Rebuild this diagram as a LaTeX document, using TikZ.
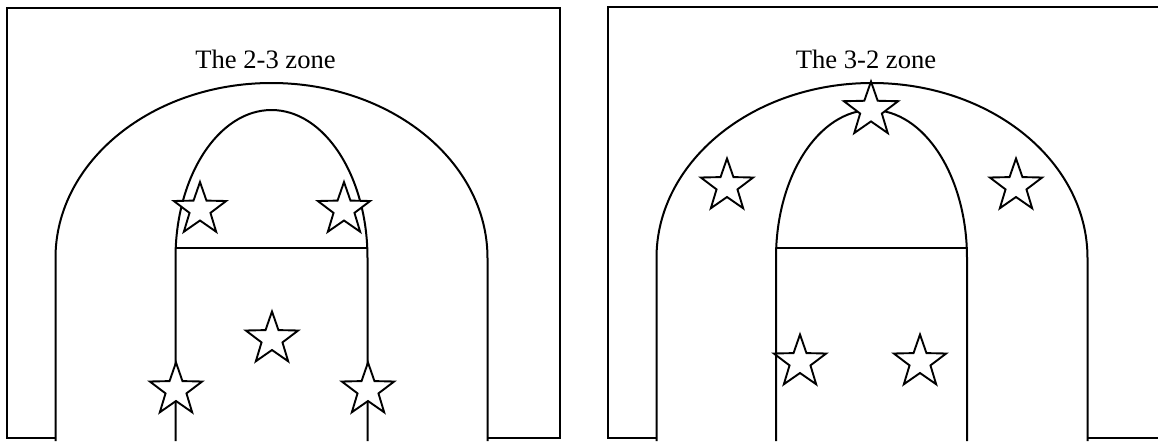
\documentclass[tikz,border=0pt]{standalone}
\usepackage{fontspec}
\setmainfont{Liberation Serif}
\usetikzlibrary{shapes.geometric,calc}
\begin{document}
\begin{tikzpicture}[x=0.5pt,y=0.5pt,
  court/.style={line width=1pt, line join=round},
  frame/.style={line width=1.1pt},
  player/.style={star, star points=5, star point ratio=2.5, draw, fill=white, line width=0.95pt, minimum size=27.5pt, inner sep=0pt},
  title/.style={font=\fontsize{13.3}{16}\selectfont, anchor=base}]
\useasboundingbox (0,0) rectangle (1158,441);
% ---------- left panel: 2-3 zone ----------
\coordinate (LfBL) at (55,3);
\coordinate (LfL) at (7,3);
\coordinate (LfTL) at (7,433);
\coordinate (LfTR) at (560,433);
\coordinate (LfR) at (560,3);
\coordinate (LfBR) at (487,3);
\draw[frame] (LfBL) -- (LfL) -- (LfTL) -- (LfTR) -- (LfR) -- (LfBR);
\coordinate (Lc) at (271.5,183);
\coordinate (Lo1) at (55.5,0);
\coordinate (Lo2) at (487.5,0);
\draw[court] (Lo1) -- (55.5,183) arc[start angle=180, end angle=0, x radius=216, y radius=175] -- (Lo2);
\coordinate (Li1) at (175.5,0);
\coordinate (Li2) at (367.5,0);
\draw[court] (Li1) -- (175.5,183) arc[start angle=180, end angle=0, x radius=96, y radius=148] -- (Li2);
\coordinate (Lft1) at ($(Lc)+(176.13:96 and 148)$);
\coordinate (Lft2) at ($(Lc)+(3.87:96 and 148)$);
\draw[court] (Lft1) -- (Lft2);
\node[title] (t23) at (265.5,373) {The 2-3 zone};
\node[player] (a1) at (200,231.5) {};
\node[player] (a2) at (344,231.5) {};
\node[player] (a3) at (272,102) {};
\node[player] (a4) at (176,51) {};
\node[player] (a5) at (368,51) {};
% ---------- right panel: 3-2 zone ----------
\coordinate (RfBL) at (657,3);
\coordinate (RfL) at (608,3);
\coordinate (RfTL) at (608,434);
\coordinate (RfTR) at (1158,434);
\coordinate (RfBR) at (1088,3);
\coordinate (RfBE) at (1158,3);
\draw[frame] (RfBL) -- (RfL) -- (RfTL) -- (RfTR);
\draw[frame] (RfBR) -- (RfBE);
\coordinate (Rc) at (872,183);
\coordinate (Ro1) at (656.5,0);
\coordinate (Ro2) at (1087.5,0);
\draw[court] (Ro1) -- (656.5,183) arc[start angle=180, end angle=0, x radius=215.5, y radius=175] -- (Ro2);
\coordinate (Ri1) at (776,0);
\coordinate (Ri2) at (967,0);
\draw[court] (Ri1) -- (776,183) arc[start angle=180, end angle=0, x radius=95.5, y radius=148] -- (Ri2);
\coordinate (Rcc) at (871.5,183);
\coordinate (Rft1) at ($(Rcc)+(176.13:95.5 and 148)$);
\coordinate (Rft2) at ($(Rcc)+(3.87:95.5 and 148)$);
\draw[court] (Rft1) -- (Rft2);
\node[title] (t32) at (866,373) {The 3-2 zone};
\node[player, minimum size=28.5pt] (b1) at (871,331) {};
\node[player] (b2) at (727,255) {};
\node[player] (b3) at (1016,255) {};
\node[player] (b4) at (800,79) {};
\node[player] (b5) at (920,79) {};
\end{tikzpicture}
\end{document}
